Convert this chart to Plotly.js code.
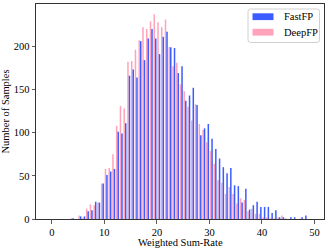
<!DOCTYPE html>
<html>
<head>
<meta charset="utf-8">
<script src="https://cdn.plot.ly/plotly-3.0.1.min.js"></script>
<style>html,body{margin:0;padding:0;background:#fff;}#chart{width:329px;height:250px;}</style>
</head>
<body>
<div id="chart"></div>
<script>
// Histogram bins: 70 bins of width 5/7 starting at 0
const binWidth = 5 / 7;
const binCount = 70;
const seriesNames = ["FastFP", "DeepFP"];
const seriesColors = ["#3d5cff", "#ffa3ba"];
const xTicks = [0, 10, 20, 30, 40, 50];
const yTicks = [0, 50, 100, 150, 200];
const xTitle = "Weighted Sum-Rate";
const yTitle = "Number of Samples";

const deepFP = [0,0,0,0,0,1,0,4,1,12,17,16,19,41,58,59,75,108,131,128,182,183,196,207,222,220,229,237,228,222,231,199,177,181,156,148,130,114,133,110,103,89,79,64,45,42,29,37,29,18,24,22,9,12,6,6,2,2,1,1,2,4,1,0,0,0,1,0,0,0];
const fastFP = [0,0,0,0,0,1,0,3,3,9,10,20,19,41,51,55,58,101,99,111,166,173,164,206,184,209,220,209,191,211,217,199,198,169,177,137,143,152,132,97,105,110,93,81,70,60,53,59,39,38,19,35,11,16,20,14,14,14,7,10,2,2,0,2,2,0,2,4,0,0];

const binCenters = [];
for (let j = 0; j < binCount; j++) binCenters.push((j + 0.5) * binWidth);

const fontFam = "Liberation Serif, Times New Roman, serif";
const fs = 10.5;

const traces = [
  {type: "bar", name: seriesNames[1], x: binCenters, y: deepFP,
   marker: {color: seriesColors[1], line: {width: 0}}, showlegend: false},
  {type: "bar", name: seriesNames[0], x: binCenters, y: fastFP,
   marker: {color: seriesColors[0], line: {width: 0}}, showlegend: false}
];

// plot area in pixels (for placing the legend box and x title)
const M = {l: 36, r: 5, t: 4, b: 31};
const W = 329, H = 250;
const pw = W - M.l - M.r, ph = H - M.t - M.b;
const px = v => (v - M.l) / pw;
const py = v => (H - M.b - v) / ph;

function roundRect(x0, y0, x1, y1, r) {
  const X0 = px(x0), X1 = px(x1), Y0 = py(y0), Y1 = py(y1);
  const rx = r / pw, ry = r / ph;
  return `M${X0 + rx},${Y0} L${X1 - rx},${Y0} Q${X1},${Y0} ${X1},${Y0 - ry} L${X1},${Y1 + ry} Q${X1},${Y1} ${X1 - rx},${Y1} L${X0 + rx},${Y1} Q${X0},${Y1} ${X0},${Y1 + ry} L${X0},${Y0 - ry} Q${X0},${Y0} ${X0 + rx},${Y0} Z`;
}

const legendRows = [16.7, 32.2];
const shapes = [
  {type: "path", xref: "paper", yref: "paper", path: roundRect(248, 9, 319.5, 42.5, 2.5),
   fillcolor: "rgba(255,255,255,0.8)", line: {color: "#d0d0d0", width: 1}, layer: "above"}
];
const annotations = [];
seriesNames.forEach((nm, i) => {
  const cy = legendRows[i];
  shapes.push({type: "rect", xref: "paper", yref: "paper",
    x0: px(252.5), x1: px(273.5), y0: py(cy - 3.4), y1: py(cy + 3.4),
    fillcolor: seriesColors[i], line: {width: 0}, layer: "above"});
  annotations.push({xref: "paper", yref: "paper", x: px(281.5), y: py(cy),
    xanchor: "left", yanchor: "middle", text: nm, showarrow: false,
    font: {family: fontFam, size: fs, color: "#000"}});
});
annotations.push({xref: "paper", yref: "paper", x: 0.5, y: py(242.3),
  xanchor: "center", yanchor: "middle", text: xTitle, showarrow: false,
  borderpad: 0,
  font: {family: fontFam, size: fs, color: "#000"}});

const axisCommon = {
  showline: true, mirror: true, linecolor: "#333", linewidth: 1,
  ticks: "outside", ticklen: 3.5, tickwidth: 0.8, tickcolor: "#333",
  showgrid: false, zeroline: false,
  tickfont: {family: fontFam, size: fs, color: "#000"}
};

const layout = {
  width: W, height: H, autosize: false,
  margin: {l: M.l, r: M.r, t: M.t, b: M.b, pad: 0},
  paper_bgcolor: "#fff", plot_bgcolor: "#fff",
  barmode: "group", bargap: 0.2, bargroupgap: 0,
  font: {family: fontFam, size: fs, color: "#000"},
  xaxis: Object.assign({}, axisCommon, {
    range: [-3.0, 51.8], tickvals: xTicks, ticktext: xTicks.map(String)
  }),
  yaxis: Object.assign({}, axisCommon, {
    range: [0, 249], tickvals: yTicks, ticktext: yTicks.map(String),
    title: {text: yTitle, font: {family: fontFam, size: fs, color: "#000"}, standoff: 4}
  }),
  showlegend: false,
  shapes: shapes,
  annotations: annotations
};

Plotly.newPlot("chart", traces, layout, {staticPlot: true, displayModeBar: false});
</script>
</body>
</html>
